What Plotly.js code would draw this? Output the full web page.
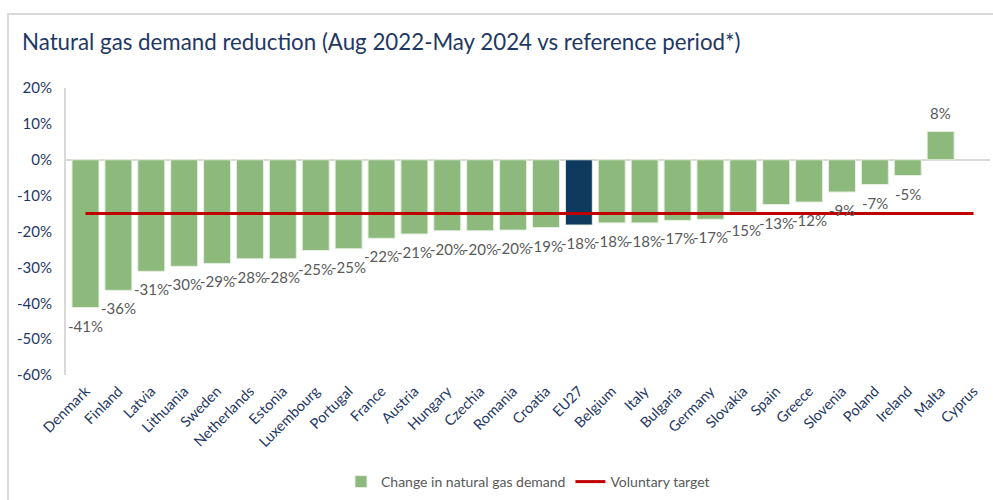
<!DOCTYPE html>
<html>
<head>
<meta charset="utf-8">
<script src="https://cdn.plot.ly/plotly-3.0.1.min.js"></script>
<style>
  html, body { margin: 0; padding: 0; background: #fff; }
  #wrap { position: relative; width: 993px; height: 500px; overflow: hidden; }
  #frame { position: absolute; left: 7px; top: 13px; width: 1000px; height: 500px;
           border: 2px solid #D9D9D9; box-sizing: border-box; pointer-events: none; }
  #chart { position: absolute; left: 0; top: 0; width: 993px; height: 500px; }
</style>
</head>
<body>
<div id="wrap">
  <div id="chart"></div>
  <div id="frame"></div>
</div>
<script>
const countries = ["Denmark","Finland","Latvia","Lithuania","Sweden","Netherlands","Estonia","Luxembourg","Portugal","France","Austria","Hungary","Czechia","Romania","Croatia","EU27","Belgium","Italy","Bulgaria","Germany","Slovakia","Spain","Greece","Slovenia","Poland","Ireland","Malta","Cyprus"];
const demandChange = [-0.41,-0.36,-0.31,-0.30,-0.29,-0.28,-0.28,-0.25,-0.25,-0.22,-0.21,-0.20,-0.20,-0.20,-0.19,-0.18,-0.18,-0.18,-0.17,-0.17,-0.15,-0.13,-0.12,-0.09,-0.07,-0.05,0.08,null];
const barValues = [-0.412,-0.364,-0.311,-0.297,-0.289,-0.276,-0.276,-0.253,-0.248,-0.219,-0.207,-0.198,-0.198,-0.196,-0.189,-0.182,-0.176,-0.176,-0.169,-0.166,-0.146,-0.125,-0.118,-0.090,-0.069,-0.044,0.079,null];
const voluntaryTarget = [-0.15,-0.15,-0.15,-0.15,-0.15,-0.15,-0.15,-0.15,-0.15,-0.15,-0.15,-0.15,-0.15,-0.15,-0.15,-0.15,-0.15,-0.15,-0.15,-0.15,-0.15,-0.15,-0.15,-0.15,-0.15,-0.15,-0.15,-0.15];
const yTickVals = [0.2,0.1,0,-0.1,-0.2,-0.3,-0.4,-0.5,-0.6];
const yTickText = ["20%","10%","0%","-10%","-20%","-30%","-40%","-50%","-60%"];

const green = "#8DB97D", navy = "#0F3A60";
const barColors = countries.map(c => c === "EU27" ? navy : green);

const font = "Lato, 'Open Sans', sans-serif";

const traces = [
  {
    type: "bar", name: "Change in natural gas demand",
    x: countries, y: barValues,
    marker: { color: barColors, line: { color: "#E6F0E0", width: 1 } },
    hoverinfo: "x+y"
  },
  {
    type: "scatter", mode: "lines", name: "Voluntary target",
    x: countries, y: voluntaryTarget,
    line: { color: "#C00000", width: 3 }
  }
];

const annotations = [];
countries.forEach((c, i) => {
  const v = demandChange[i];
  if (v === null) return;
  annotations.push({
    x: c, y: barValues[i], xref: "x", yref: "y",
    text: Math.round(v * 100) + "%", showarrow: false,
    xanchor: "center", yanchor: "middle", yshift: v < 0 ? -18 : 18,
    font: { family: font, size: 15, color: "#595959" }
  });
});

const layout = {
  width: 993, height: 500,
  margin: { l: 66, r: 3, t: 88, b: 124 },
  paper_bgcolor: "rgba(0,0,0,0)", plot_bgcolor: "rgba(0,0,0,0)",
  bargap: 0.18,
  showlegend: true,
  annotations: annotations,
  title: { text: "Natural gas demand reduction (Aug 2022-May 2024 vs reference period*)",
           x: 22/993, xanchor: "left", y: 1 - 42/500, yanchor: "middle",
           font: { family: font, size: 22.3, color: "#1F3864" } },
  xaxis: { type: "category", tickangle: -45, showgrid: false, showline: false, ticks: "",
           ticklabelstandoff: 4,
           tickfont: { family: font, size: 14.5, color: "#1F3864" }, fixedrange: true },
  yaxis: { range: [-0.6, 0.2], tickvals: yTickVals, ticktext: yTickText, showgrid: false,
           showline: true, linecolor: "#D9D9D9", linewidth: 2,
           zeroline: true, zerolinecolor: "#D9D9D9", zerolinewidth: 2,
           ticks: "", ticklabelstandoff: 9,
           tickfont: { family: font, size: 15, color: "#1F3864" }, fixedrange: true },
  legend: { orientation: "h", x: 0.5, xanchor: "center", y: -0.368, yanchor: "middle",
            font: { family: font, size: 14, color: "#595959" }, traceorder: "normal" }
};

Plotly.newPlot("chart", traces, layout, { displayModeBar: false, staticPlot: true });
</script>
</body>
</html>
